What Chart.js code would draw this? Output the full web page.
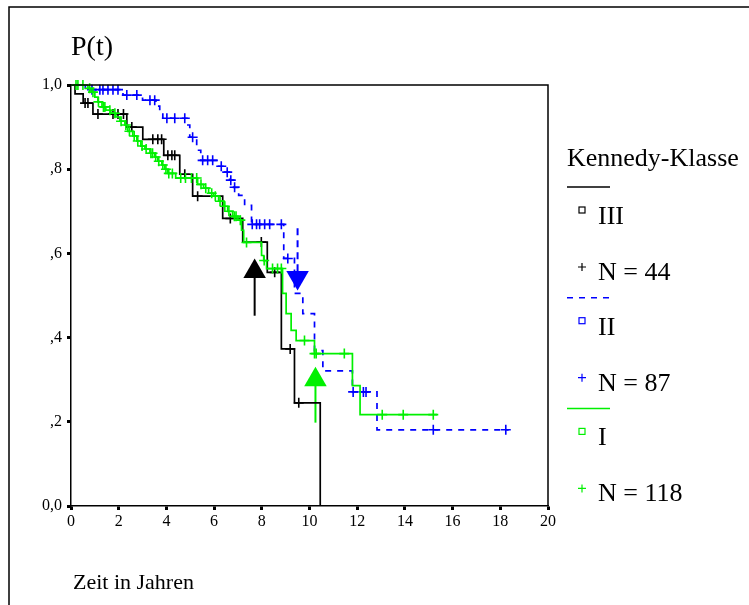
<!DOCTYPE html>
<html>
<head>
<meta charset="utf-8">
<script src="https://cdn.jsdelivr.net/npm/chart.js@4.4.0/dist/chart.umd.min.js"></script>
<style>
body { margin: 0; background: #fff; }
canvas { display: block; }
</style>
</head>
<body>
<canvas id="km-chart" width="749" height="605"></canvas>
<script>
// Kaplan-Meier steps (time in years, P(t))
const blackT = [0, 0.17, 0.51, 0.92, 2.34, 3.01, 3.89, 4.56, 5.10, 6.36, 7.20, 8.23, 8.82, 9.37, 10.45];
const blackP = [1, 0.979, 0.957, 0.931, 0.900, 0.871, 0.833, 0.788, 0.736, 0.683, 0.627, 0.555, 0.373, 0.245, 0];
const blackCensorT = [0.59, 0.71, 1.13, 1.76, 1.97, 2.20, 2.55, 3.43, 3.64, 3.80, 4.06, 4.23, 4.35, 4.77, 5.31, 6.68, 7.98, 8.54, 9.19, 9.55];

const blueT = [0, 0.60, 2.18, 3.00, 3.56, 3.72, 3.85, 4.90, 4.98, 5.27, 5.44, 6.11, 6.45, 6.65, 6.82, 7.03, 7.28, 7.57, 8.92, 9.37, 9.72, 10.21, 10.56, 11.80, 12.83, 18.35];
const blueP = [1, 0.989, 0.976, 0.964, 0.950, 0.936, 0.921, 0.905, 0.876, 0.845, 0.821, 0.807, 0.793, 0.774, 0.757, 0.738, 0.714, 0.669, 0.588, 0.505, 0.457, 0.369, 0.321, 0.271, 0.181, 0.181];
const blueCensorT = [0.88, 1.21, 1.34, 1.55, 1.76, 1.97, 2.34, 2.76, 3.31, 3.51, 4.02, 4.35, 4.77, 5.10, 5.52, 5.73, 5.94, 6.30, 6.55, 6.70, 6.86, 7.60, 7.78, 7.91, 8.12, 8.33, 8.82, 9.09, 11.83, 12.26, 12.37, 15.19, 18.23];

const greenT = [0, 0.71, 0.84, 1.00, 1.13, 1.30, 1.46, 1.67, 1.88, 2.05, 2.26, 2.38, 2.59, 2.76, 2.93, 3.10, 3.31, 3.51, 3.64, 3.81, 3.93, 4.06, 4.39, 5.31, 5.56, 5.77, 5.98, 6.19, 6.40, 6.57, 6.78, 7.00, 7.15, 7.24, 7.99, 8.08, 8.20, 8.87, 9.02, 9.23, 9.44, 10.21, 11.80, 12.12, 15.35];
const greenP = [1, 0.992, 0.983, 0.971, 0.960, 0.948, 0.940, 0.933, 0.924, 0.914, 0.905, 0.890, 0.879, 0.867, 0.855, 0.848, 0.838, 0.829, 0.819, 0.810, 0.800, 0.790, 0.779, 0.764, 0.755, 0.743, 0.736, 0.724, 0.712, 0.700, 0.688, 0.679, 0.655, 0.626, 0.595, 0.583, 0.564, 0.505, 0.457, 0.417, 0.393, 0.362, 0.286, 0.217, 0.217];
const greenCensorT = [0.21, 0.29, 0.50, 0.78, 0.92, 1.15, 1.36, 1.42, 1.63, 1.84, 2.10, 2.30, 2.45, 2.65, 2.80, 2.98, 3.15, 3.35, 3.42, 3.55, 3.68, 3.85, 3.98, 4.10, 4.25, 4.60, 4.80, 5.05, 5.27, 5.45, 5.65, 5.90, 6.05, 6.25, 6.45, 6.62, 6.85, 6.92, 7.10, 7.36, 8.10, 8.45, 8.66, 8.82, 9.79, 10.21, 10.28, 11.46, 13.05, 13.93, 15.19];

// arrows: x position, shaft end, head centre (black up, blue down, green up)
const arrowT = [7.7, 9.5, 10.25];
const arrowTailP = [0.452, 0.66, 0.198];
const arrowHeadP = [0.557, 0.543, 0.300];

const groups = ['III', 'II', 'I'];
const groupN = ['N = 44', 'N = 87', 'N = 118'];
const colors = ['#000000', '#0000ff', '#00f000'];
const yTickLabels = ['0,0', ',2', ',4', ',6', ',8', '1,0'];
const legendTitle = 'Kennedy-Klasse';
const yTitle = 'P(t)';
const xTitle = 'Zeit in Jahren';

const FONT = '"Liberation Serif", "Times New Roman", serif';

function toPoints(ts, ps) {
    return ts.map((t, i) => ({ x: t, y: ps[i] }));
}

// level of the step curve at time t
function levelAt(ts, ps, t) {
    let p = ps[0];
    for (let i = 0; i < ts.length; i++) {
        if (ts[i] <= t) p = ps[i];
    }
    return p;
}

function censorPoints(ts, ps, cs) {
    return cs.map(t => ({ x: t, y: levelAt(ts, ps, t) }));
}

function stepSet(ts, ps, color, dash) {
    return {
        data: toPoints(ts, ps),
        stepped: true,
        borderColor: color,
        borderWidth: 1.7,
        borderDash: dash || [],
        pointRadius: 0,
        fill: false
    };
}

function censorSet(ts, ps, cs, color) {
    return {
        data: censorPoints(ts, ps, cs),
        showLine: false,
        pointStyle: 'cross',
        pointRadius: 5,
        pointBorderWidth: 1.6,
        borderColor: color,
        clip: false
    };
}

const datasets = [
    stepSet(greenT, greenP, colors[2]),
    censorSet(greenT, greenP, greenCensorT, colors[2]),
    stepSet(blueT, blueP, colors[1], [6, 6]),
    censorSet(blueT, blueP, blueCensorT, colors[1]),
    stepSet(blackT, blackP, colors[0]),
    censorSet(blackT, blackP, blackCensorT, colors[0])
];

// Arrows
arrowT.forEach((t, i) => {
    datasets.push({
        data: [{ x: t, y: arrowTailP[i] }, { x: t, y: arrowHeadP[i] }],
        borderColor: colors[i],
        borderWidth: 2,
        borderDash: i === 1 ? [7, 5] : [],
        pointRadius: 0
    });
    datasets.push({
        data: [{ x: t, y: arrowHeadP[i] }],
        showLine: false,
        pointStyle: 'triangle',
        pointRadius: 13,
        pointRotation: i === 1 ? 180 : 0,
        pointBorderWidth: 0,
        backgroundColor: colors[i],
        borderColor: colors[i]
    });
});

// Frame, plot box, titles and legend
const decorPlugin = {
    id: 'decor',
    afterDraw(chart) {
        const ctx = chart.ctx;
        const area = chart.chartArea;
        ctx.save();
        ctx.strokeStyle = '#000';
        ctx.lineWidth = 1.5;
        ctx.beginPath();
        ctx.moveTo(9, 605);
        ctx.lineTo(9, 7);
        ctx.lineTo(749, 7);
        ctx.stroke();

        ctx.beginPath();
        ctx.moveTo(area.left, area.top);
        ctx.lineTo(area.right, area.top);
        ctx.lineTo(area.right, area.bottom);
        ctx.stroke();

        ctx.fillStyle = '#000';
        ctx.textBaseline = 'middle';
        ctx.font = '28px ' + FONT;
        ctx.fillText(yTitle, 71, 48);
        ctx.font = '22px ' + FONT;
        ctx.fillText(xTitle, 73, 583);

        // legend
        ctx.font = '26px ' + FONT;
        ctx.fillText(legendTitle, 567, 159);
        groups.forEach((g, i) => {
            const off = i * 110.7;
            ctx.strokeStyle = colors[i];
            ctx.lineWidth = 1.5;
            ctx.setLineDash(i === 1 ? [6, 6] : []);
            ctx.beginPath();
            ctx.moveTo(567, 187 + off);
            ctx.lineTo(610, 187 + off);
            ctx.stroke();
            ctx.setLineDash([]);
            ctx.lineWidth = 1.2;
            ctx.strokeRect(579, 207 + off, 6, 6);
            ctx.beginPath();
            ctx.moveTo(578, 267 + off);
            ctx.lineTo(586, 267 + off);
            ctx.moveTo(582, 263 + off);
            ctx.lineTo(582, 271 + off);
            ctx.stroke();
            ctx.fillStyle = '#000';
            ctx.fillText(g, 598, 217 + off);
            ctx.fillText(groupN[i], 598, 273 + off);
        });
        ctx.restore();
    }
};

const ctx = document.getElementById('km-chart').getContext('2d');
const kmChart = new Chart(ctx, {
    type: 'line',
    data: { datasets: datasets },
    options: {
        responsive: false,
        animation: false,
        devicePixelRatio: 1,
        layout: {
            autoPadding: false,
            padding: { top: 85, right: 201, left: 0, bottom: 0 }
        },
        plugins: {
            legend: { display: false },
            tooltip: { enabled: false },
            title: { display: false }
        },
        scales: {
            x: {
                type: 'linear',
                min: 0,
                max: 20,
                afterFit: (s) => { s.height = 99; },
                ticks: {
                    stepSize: 2,
                    color: '#000',
                    padding: 2,
                    maxRotation: 0,
                    font: { family: FONT, size: 16 }
                },
                grid: { drawOnChartArea: false, tickLength: 4, tickWidth: 3, tickColor: '#000' },
                border: { color: '#000', width: 1.5 }
            },
            y: {
                min: 0,
                max: 1,
                afterFit: (s) => { s.width = 71; },
                ticks: {
                    stepSize: 0.2,
                    color: '#000',
                    padding: 5,
                    font: { family: FONT, size: 16 },
                    callback: (v) => yTickLabels[Math.round(v * 5)]
                },
                grid: { drawOnChartArea: false, tickLength: 4, tickWidth: 3, tickColor: '#000' },
                border: { color: '#000', width: 1.5 }
            }
        }
    },
    plugins: [decorPlugin]
});
</script>
</body>
</html>
